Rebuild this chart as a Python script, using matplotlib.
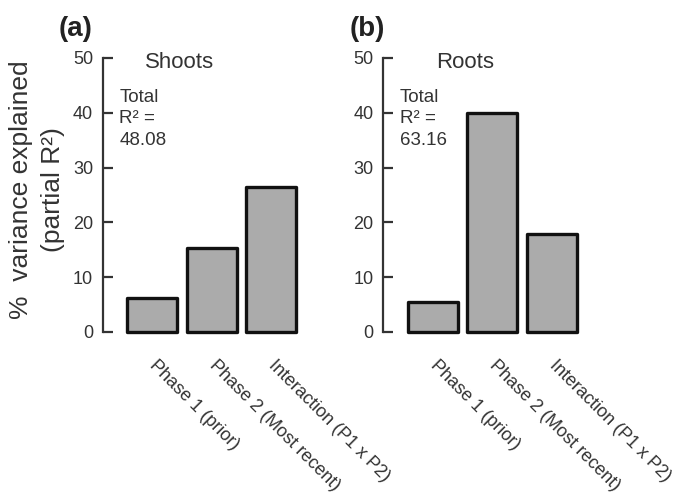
import numpy as np
import matplotlib
matplotlib.use("Agg")
import matplotlib.pyplot as plt

plt.rcParams['font.family'] = ['Liberation Sans', 'DejaVu Sans']

categories = ["Phase 1 (prior)", "Phase 2 (Most recent)", "Interaction (P1 x P2)"]
shoots = [6.2, 15.3, 26.4]
roots = [5.4, 40.0, 17.8]
panel_titles = ["Shoots", "Roots"]
panel_letters = ["(a)", "(b)"]
total_r2 = ["48.08", "63.16"]
yticks = [0, 10, 20, 30, 40, 50]

W, H = 680, 495
fig = plt.figure(figsize=(W / 100, H / 100), dpi=100)

axes_left_px = [102.7, 383.3]
ax_bottom_px = 332
ax_top_px = 58
unit_px = 59.5
xlim = (-0.83, 2.5)
ax_w_px = (xlim[1] - xlim[0]) * unit_px

spine_col = '#333333'
x = np.arange(len(categories))

for i, vals in enumerate([shoots, roots]):
    ax = fig.add_axes([axes_left_px[i] / W, (H - ax_bottom_px) / H,
                       ax_w_px / W, (ax_bottom_px - ax_top_px) / H])
    ax.bar(x, vals, width=0.84, color='#ababab', edgecolor='#111111',
           linewidth=2.4, joinstyle='round', clip_on=False, zorder=3)
    ax.set_xlim(*xlim)
    ax.set_ylim(0, 50)
    for s in ['top', 'right', 'bottom']:
        ax.spines[s].set_visible(False)
    ax.spines['left'].set_color(spine_col)
    ax.spines['left'].set_linewidth(1.6)
    ax.set_yticks(yticks)
    ax.set_yticklabels([str(v) for v in yticks], fontsize=13, color='#333333')
    ax.tick_params(axis='y', direction='in', length=7, width=1.6,
                   color=spine_col, pad=7)
    ax.set_xticks(x + 0.1)
    ax.set_xticklabels(categories, rotation=-45, ha='left',
                       rotation_mode='anchor', fontsize=13, color='#333333')
    ax.tick_params(axis='x', length=0, pad=18)
    ax.patch.set_visible(False)

    title_x = [0.46, 0.55][i]
    ax.text(title_x, 48.2, panel_titles[i], ha='center', va='baseline',
            fontsize=16, color='#333333')
    ax.text(-0.55, 44.4, "Total\nR\u00b2 =\n" + total_r2[i], ha='left',
            va='top', fontsize=13.5, color='#333333', linespacing=1.35)

    fig.text([76, 367][i] / W, 1 - 29 / H, panel_letters[i], ha='center',
             va='center', fontsize=20, fontweight='bold', color='#222222')

fig.text(37 / W, 1 - 190 / H, "%  variance explained\n(partial R\u00b2)",
         rotation=90, ha='center', va='center', multialignment='center',
         fontsize=19, color='#333333', linespacing=1.45)

fig.savefig("out.png", dpi=100)
